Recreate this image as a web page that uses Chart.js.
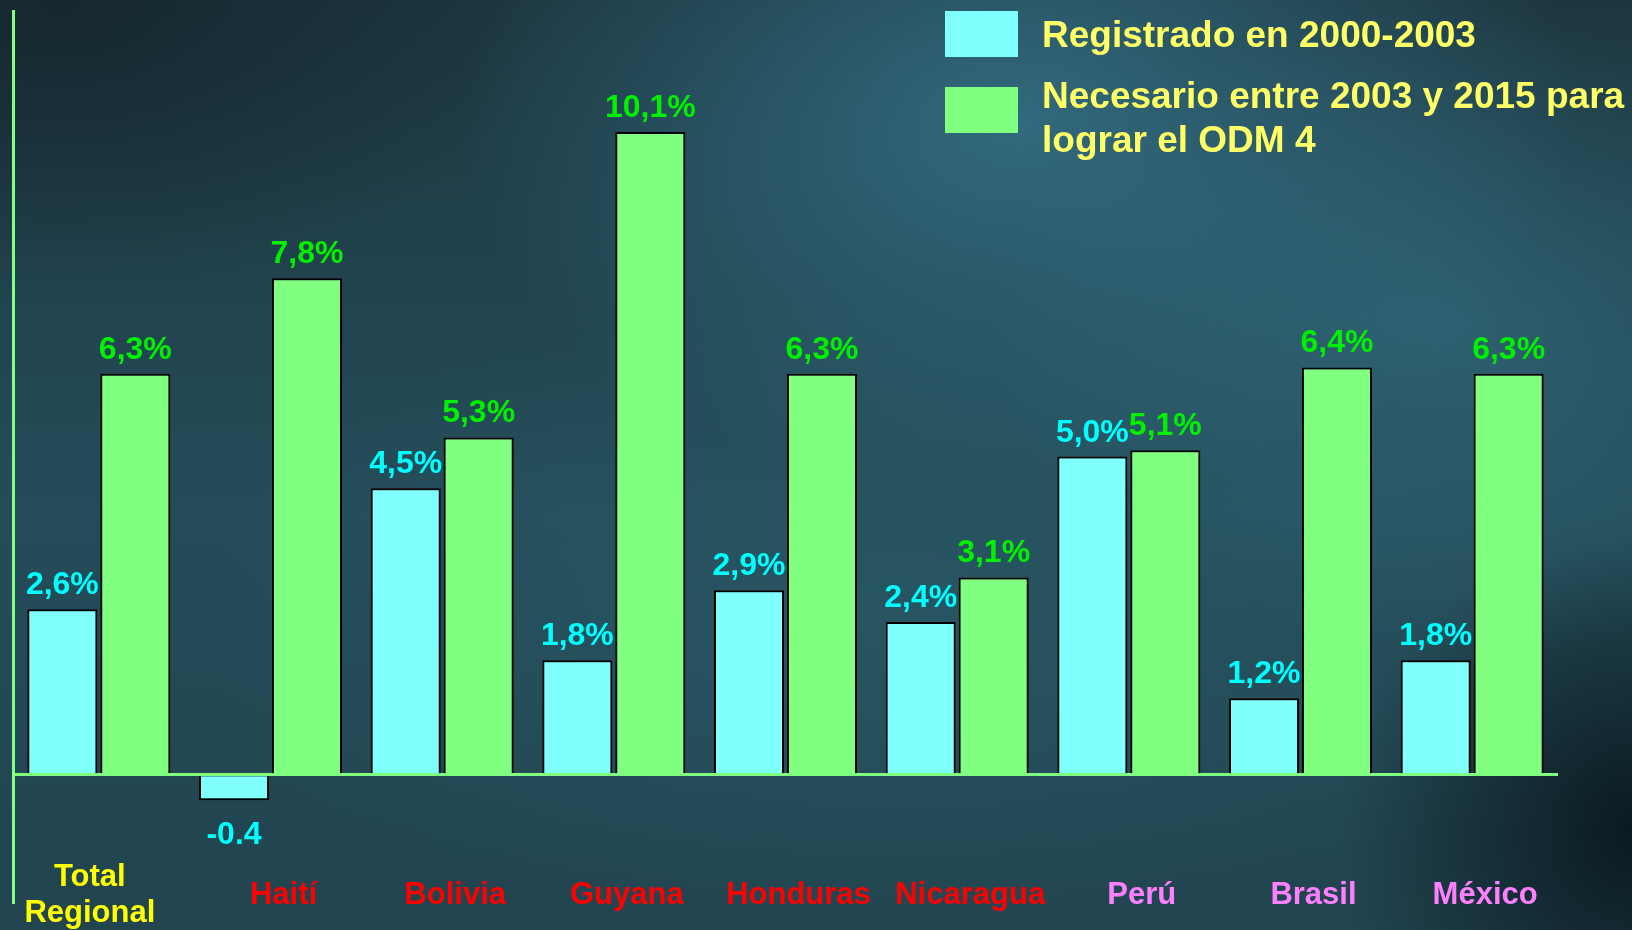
<!DOCTYPE html>
<html>
<head>
<meta charset="utf-8">
<script src="https://cdn.jsdelivr.net/npm/chart.js@4.4.1/dist/chart.umd.min.js"></script>
<style>
html, body { margin: 0; padding: 0; width: 1632px; height: 930px; overflow: hidden; }
body {
  background:
    radial-gradient(ellipse 560px 380px at 1020px 120px, rgba(58,125,150,0.7), rgba(58,125,150,0) 100%),
    radial-gradient(ellipse 460px 320px at 1450px 330px, rgba(52,110,130,0.65), rgba(52,110,130,0) 100%),
    radial-gradient(ellipse 300px 300px at 1640px 830px, rgba(8,20,26,0.9), rgba(8,20,26,0) 100%),
    radial-gradient(ellipse 480px 300px at 60px 0px, rgba(20,36,44,0.85), rgba(20,36,44,0) 100%),
    radial-gradient(ellipse 700px 330px at 900px 620px, rgba(45,95,110,0.5), rgba(45,95,110,0) 100%),
    linear-gradient(180deg, #1d3740 0%, #244d59 55%, #21444f 100%);
}
#wrap { position: relative; width: 1632px; height: 930px; }
</style>
</head>
<body>
<div id="wrap"><canvas id="c" width="1632" height="930"></canvas></div>
<script>
// ---- Data ----
const categories = [['Total', 'Regional'], 'Haití', 'Bolivia', 'Guyana', 'Honduras', 'Nicaragua', 'Perú', 'Brasil', 'México'];
const registrado = [2.6, -0.4, 4.5, 1.8, 2.9, 2.4, 5.0, 1.2, 1.8];
const necesario = [6.3, 7.8, 5.3, 10.1, 6.3, 3.1, 5.1, 6.4, 6.3];
const seriesNames = ['Registrado en 2000-2003', 'Necesario entre 2003 y 2015 para lograr el ODM 4'];
const yRange = [-2, 12];

// ---- Styles ----
const FONT = "'Liberation Sans', Arial, sans-serif";
const barColors = ['#80FFFF', '#80FF80'];
const valueColors = ['#00FFFF', '#00F000'];
const categoryColors = ['#FFFF00', '#FF0000', '#FF0000', '#FF0000', '#FF0000', '#FF0000', '#FF80FF', '#FF80FF', '#FF80FF'];
const axisColor = '#80FF80';

function fmt(v) {
  if (v < 0) return v.toFixed(1);
  return v.toFixed(1).replace('.', ',') + '%';
}

const valueLabels = {
  id: 'valueLabels',
  afterDatasetsDraw(chart) {
    const ctx = chart.ctx;
    ctx.save();
    ctx.font = 'bold 32px ' + FONT;
    ctx.textAlign = 'center';
    ctx.textBaseline = 'alphabetic';
    chart.data.datasets.forEach((ds, di) => {
      const meta = chart.getDatasetMeta(di);
      ctx.fillStyle = valueColors[di];
      meta.data.forEach((el, i) => {
        const v = ds.data[i];
        const y = v >= 0 ? el.y - 15 : el.y + 44;
        ctx.fillText(fmt(v), el.x, y);
      });
    });
    ctx.restore();
  }
};

const categoryLabels = {
  id: 'categoryLabels',
  afterDraw(chart) {
    const ctx = chart.ctx;
    const xs = chart.scales.x;
    ctx.save();
    ctx.font = 'bold 31px ' + FONT;
    ctx.textAlign = 'center';
    ctx.textBaseline = 'alphabetic';
    categories.forEach((c, i) => {
      const lines = Array.isArray(c) ? c : [c];
      const x = xs.getPixelForValue(i) + (lines.length > 1 ? -9 : 13);
      ctx.fillStyle = categoryColors[i];
      lines.forEach((t, k) => {
        const y = 904 + (k - (lines.length - 1) / 2) * 36;
        ctx.fillText(t, x, y);
      });
    });
    ctx.restore();
  }
};

const customLegend = {
  id: 'customLegend',
  afterDraw(chart) {
    const ctx = chart.ctx;
    ctx.save();
    ctx.font = 'bold 37px ' + FONT;
    ctx.textBaseline = 'alphabetic';
    ctx.textAlign = 'left';
    const boxX = 945, boxW = 73, boxH = 46;
    const textX = 1042, maxW = 1632 - textX - 2;
    const boxTops = [11, 87];
    const firstBaselines = [47, 108];
    chart.data.datasets.forEach((ds, di) => {
      ctx.fillStyle = ds.backgroundColor;
      ctx.fillRect(boxX, boxTops[di], boxW, boxH);
      const words = ds.label.split(' ');
      const lines = [];
      let cur = '';
      words.forEach(w => {
        const test = cur ? cur + ' ' + w : w;
        if (ctx.measureText(test).width > maxW && cur) { lines.push(cur); cur = w; }
        else cur = test;
      });
      if (cur) lines.push(cur);
      ctx.fillStyle = '#FFFF66';
      lines.forEach((l, k) => ctx.fillText(l, textX, firstBaselines[di] + k * 44));
    });
    ctx.restore();
  }
};

new Chart(document.getElementById('c'), {
  type: 'bar',
  data: {
    labels: categories,
    datasets: [
      { label: seriesNames[0], data: registrado, backgroundColor: barColors[0], borderColor: '#000000', borderWidth: 2 },
      { label: seriesNames[1], data: necesario, backgroundColor: barColors[1], borderColor: '#000000', borderWidth: 2 }
    ]
  },
  options: {
    responsive: false,
    animation: false,
    devicePixelRatio: 1,
    layout: { padding: { top: 11, bottom: 28, left: 13, right: 74 } },
    categoryPercentage: 0.85,
    barPercentage: 0.96,
    plugins: { legend: { display: false }, tooltip: { enabled: false } },
    scales: {
      x: { display: false },
      y: {
        min: yRange[0], max: yRange[1],
        ticks: { display: false, stepSize: 1 },
        grid: {
          drawTicks: false,
          color: c => (c.tick && c.tick.value === 0) ? axisColor : 'rgba(0,0,0,0)',
          lineWidth: 3
        },
        border: { display: true, color: axisColor, width: 3 },
        afterFit: s => { s.width = 0; }
      }
    }
  },
  plugins: [valueLabels, categoryLabels, customLegend]
});
</script>
</body>
</html>
